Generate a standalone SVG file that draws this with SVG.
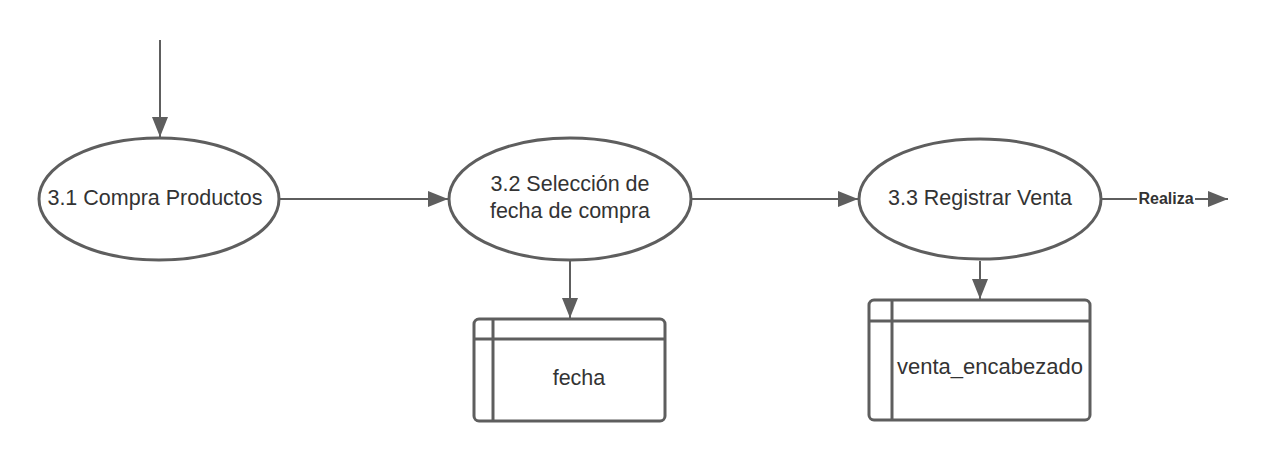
<svg xmlns="http://www.w3.org/2000/svg" width="1270" height="460" viewBox="0 0 1270 460">
<defs>
<style>
.shape{fill:#fff;stroke:#5e5e5e;stroke-width:3}
.line{fill:none;stroke:#5e5e5e;stroke-width:2}
.txt{font-family:"Liberation Sans",Arial,sans-serif;font-size:21.5px;fill:#333;text-anchor:middle}
.lbl{font-family:"Liberation Sans",Arial,sans-serif;font-size:16px;font-weight:bold;fill:#333;text-anchor:middle}
</style>
<marker id="arr" markerWidth="20" markerHeight="20" viewBox="0 0 20 20" refX="20" refY="10" orient="auto" markerUnits="userSpaceOnUse">
<path d="M0,2 L20,10 L0,18 Z" fill="#5e5e5e"/>
</marker>
</defs>
<rect width="1270" height="460" fill="#fff"/>
<g id="connectors">
<line class="line" x1="160" y1="40" x2="160" y2="137" marker-end="url(#arr)"/>
<line class="line" x1="280" y1="199" x2="448" y2="199" marker-end="url(#arr)"/>
<line class="line" x1="692" y1="199" x2="858" y2="199" marker-end="url(#arr)"/>
<line class="line" x1="1101" y1="199" x2="1137" y2="199"/>
<line class="line" x1="1195" y1="199" x2="1228" y2="199" marker-end="url(#arr)"/>
<line class="line" x1="570" y1="261" x2="570" y2="318" marker-end="url(#arr)"/>
<line class="line" x1="980" y1="261" x2="980" y2="299" marker-end="url(#arr)"/>
<text class="lbl" x="1166" y="204">Realiza</text>
</g>
<g id="n31">
<ellipse class="shape" cx="159" cy="199" rx="120" ry="61"/>
<text class="txt" x="155" y="205">3.1 Compra Productos</text>
</g>
<g id="n32">
<ellipse class="shape" cx="570" cy="199" rx="121" ry="61"/>
<text class="txt" x="570" y="191">3.2 Selección de</text>
<text class="txt" x="570" y="218">fecha de compra</text>
</g>
<g id="n33">
<ellipse class="shape" cx="980" cy="199" rx="121" ry="60"/>
<text class="txt" x="980" y="205">3.3 Registrar Venta</text>
</g>
<g id="fecha">
<rect class="shape" x="474" y="319" width="191" height="102" rx="5"/>
<line class="shape" x1="474" y1="339" x2="665" y2="339"/>
<line class="shape" x1="493" y1="319" x2="493" y2="421"/>
<text class="txt" x="579" y="385">fecha</text>
</g>
<g id="venta">
<rect class="shape" x="869" y="300" width="221" height="120" rx="5"/>
<line class="shape" x1="869" y1="321" x2="1090" y2="321"/>
<line class="shape" x1="892" y1="300" x2="892" y2="420"/>
<text class="txt" x="990" y="374" style="font-size:22px">venta_encabezado</text>
</g>
</svg>
